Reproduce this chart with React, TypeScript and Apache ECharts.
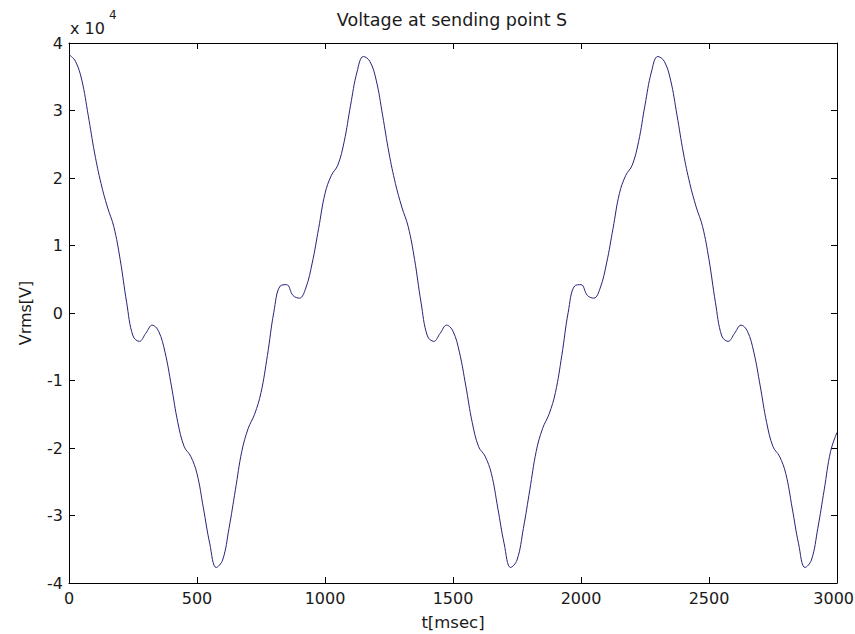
import React, { useEffect, useRef } from "react";
import * as echarts from "echarts";

// Sampling grid of the trace (ms)
const SAMPLE_STEP_MS = 25;

// Voltage, in volts, one value every 25 ms from 0 to 3000 ms
const VOLTAGE_V: number[] = [
  // 0 .. 1125 ms
  38300, 37300, 34500, 29300, 23700, 19200, 15700, 12800, 7900, 1600,
  -3400, -4200, -3000, -1800, -2700, -5800, -10800, -16200, -19800, -21200,
  -23800, -28900, -34200, -37700, -36600, -31900, -26200, -20500, -17100, -15000,
  -11800, -6300, 100, 4000, 4200, 2600, 2200, 3700, 7400, 12500,
  17700, 20400, 21900, 25400, 30800, 35700,
  // 1150 .. 2275 ms
  38000, 37300, 34500, 29300, 23700, 19200, 15700, 12800, 7900, 1600,
  -3400, -4200, -3000, -1800, -2700, -5800, -10800, -16200, -19800, -21200,
  -23800, -28900, -34200, -37700, -36600, -31900, -26200, -20500, -17100, -15000,
  -11800, -6300, 100, 4000, 4200, 2600, 2200, 3700, 7400, 12500,
  17700, 20400, 21900, 25400, 30800, 35700,
  // 2300 .. 3000 ms
  38000, 37300, 34500, 29300, 23700, 19200, 15700, 12800, 7900, 1600,
  -3400, -4200, -3000, -1800, -2700, -5800, -10800, -16200, -19800, -21200,
  -23800, -28900, -34200, -37700, -36600, -31900, -26200, -20500, -17700,
];

const X_TICKS = [0, 500, 1000, 1500, 2000, 2500, 3000];
const Y_TICK_LABELS = ["-4", "-3", "-2", "-1", "0", "1", "2", "3", "4"];
const Y_SCALE = 10000;

const TITLE = "Voltage at sending point S";
const X_NAME = "t[msec]";
const Y_NAME = "Vrms[V]";

const FONT = "DejaVu Sans";
const TEXT_COLOR = "#1a1a1a";
const LINE_COLOR = "#24247a";

export default function App() {
  const ref = useRef<HTMLDivElement>(null);

  useEffect(() => {
    if (!ref.current) return;
    const chart = echarts.init(ref.current, undefined, { renderer: "svg" });

    const data = VOLTAGE_V.map((v, i) => [i * SAMPLE_STEP_MS, v]);
    const xMin = X_TICKS[0];
    const xMax = X_TICKS[X_TICKS.length - 1];
    const yMin = Number(Y_TICK_LABELS[0]) * Y_SCALE;
    const yMax = Number(Y_TICK_LABELS[Y_TICK_LABELS.length - 1]) * Y_SCALE;

    const axisLine = { show: true, onZero: false, lineStyle: { color: "#000", width: 1 } };
    const axisTick = { show: true, inside: true, length: 6, lineStyle: { color: "#000", width: 1 } };
    const labelStyle = { color: TEXT_COLOR, fontFamily: FONT, fontSize: 16 };

    const xBase = {
      type: "value",
      min: xMin,
      max: xMax,
      interval: 500,
      axisLine,
      axisTick,
      splitLine: { show: false },
    };
    const yBase = {
      type: "value",
      min: yMin,
      max: yMax,
      interval: Y_SCALE,
      axisLine,
      axisTick,
      splitLine: { show: false },
    };

    chart.setOption({
      animation: false,
      backgroundColor: "#ffffff",
      grid: { left: 69, right: 18, top: 43, bottom: 51, containLabel: false, outerBoundsMode: "none" },
      xAxis: [
        {
          ...xBase,
          position: "bottom",
          axisLabel: {
            ...labelStyle,
            margin: 7,
            showMaxLabel: false,
            formatter: (v: number) => String(v),
          },
        },
        { ...xBase, position: "top", axisLabel: { show: false } },
      ],
      yAxis: [
        {
          ...yBase,
          position: "left",
          axisLabel: {
            ...labelStyle,
            margin: 6,
            formatter: (v: number) => String(Math.round(v / Y_SCALE)),
          },
        },
        { ...yBase, position: "right", axisLabel: { show: false } },
      ],
      series: [
        {
          type: "line",
          xAxisIndex: 0,
          yAxisIndex: 0,
          data,
          showSymbol: false,
          smooth: 0.4,
          lineStyle: { color: LINE_COLOR, width: 1 },
        },
      ],
      graphic: [
        {
          type: "text",
          x: 452,
          y: 20,
          style: { text: TITLE, fill: TEXT_COLOR, font: `17.5px "${FONT}"`, align: "center", verticalAlign: "middle" },
        },
        {
          type: "text",
          x: 70,
          y: 28,
          style: { text: "x 10", fill: TEXT_COLOR, font: `16px "${FONT}"`, align: "left", verticalAlign: "middle" },
        },
        {
          type: "text",
          x: 109,
          y: 15,
          style: { text: "4", fill: TEXT_COLOR, font: `12px "${FONT}"`, align: "left", verticalAlign: "middle" },
        },
        {
          // last x tick label, kept inside the page's right edge
          type: "text",
          x: 854,
          y: 598,
          style: {
            text: String(xMax),
            fill: TEXT_COLOR,
            font: `16px "${FONT}"`,
            align: "right",
            verticalAlign: "middle",
          },
        },
        {
          type: "text",
          x: 453,
          y: 622,
          style: { text: X_NAME, fill: TEXT_COLOR, font: `16.5px "${FONT}"`, align: "center", verticalAlign: "middle" },
        },
        {
          type: "text",
          x: 25,
          y: 313,
          rotation: Math.PI / 2,
          style: { text: Y_NAME, fill: TEXT_COLOR, font: `16px "${FONT}"`, align: "center", verticalAlign: "middle" },
        },
      ],
    });

    return () => chart.dispose();
  }, []);

  return (
    <div
      ref={ref}
      style={{ position: "fixed", left: 0, top: 0, width: 855, height: 634, background: "#fff" }}
    />
  );
}
